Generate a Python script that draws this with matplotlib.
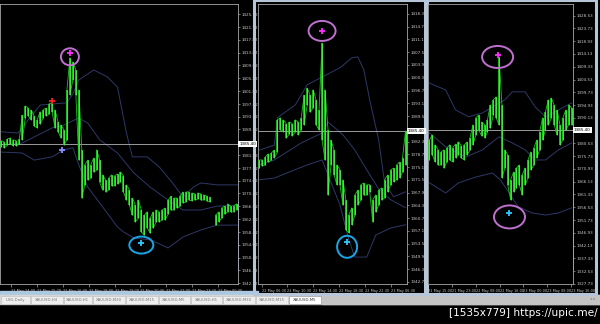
import numpy as np
import matplotlib
matplotlib.use('Agg')
import matplotlib.pyplot as plt
from matplotlib.patches import Ellipse, Rectangle
from matplotlib.transforms import ScaledTranslation, blended_transform_factory

# ---------------- left chart ----------------
p1_high = [1386.4, 1386.0, 1387.0, 1387.3, 1386.7, 1386.4, 1387.0, 1394.4, 1397.2, 1396.6,
           1396.0, 1394.1, 1392.9, 1395.4, 1396.0, 1396.6, 1397.9, 1398.2, 1396.0, 1392.3,
           1391.3, 1389.8, 1402.2, 1412.2, 1410.9, 1408.4, 1402.2, 1383.6, 1378.9, 1380.4,
           1378.9, 1381.1, 1383.6, 1380.4, 1375.8, 1374.2, 1374.8, 1375.8, 1375.5, 1376.1,
           1376.7, 1375.5, 1372.7, 1371.1, 1368.6, 1366.4, 1368.0, 1364.9, 1363.3, 1364.3,
           1362.4, 1364.3, 1364.9, 1364.3, 1364.9, 1365.5, 1368.0, 1369.2, 1368.6, 1368.6,
           1369.2, 1370.5, 1370.5, 1370.5, 1370.2, 1369.9, 1370.2, 1369.9, 1369.6, 1369.2,
           1368.9, np.nan, 1363.3, 1364.3, 1365.5, 1366.1, 1366.8, 1366.1, 1366.1, 1366.8]
p1_low = [1384.5, 1384.2, 1385.1, 1385.4, 1384.8, 1384.8, 1385.4, 1386.7, 1393.5, 1394.1,
          1392.9, 1391.0, 1390.4, 1391.6, 1393.5, 1394.1, 1394.7, 1395.4, 1390.4, 1389.2,
          1387.3, 1385.1, 1386.7, 1400.7, 1405.3, 1400.7, 1380.4, 1368.6, 1372.7, 1374.2,
          1374.8, 1376.7, 1377.3, 1373.6, 1371.1, 1370.5, 1371.1, 1372.4, 1372.4, 1373.0,
          1373.6, 1370.5, 1368.0, 1366.4, 1363.3, 1361.2, 1362.4, 1358.1, 1357.1, 1359.3,
          1357.7, 1359.3, 1361.2, 1361.2, 1361.8, 1361.8, 1363.6, 1364.9, 1364.9, 1365.5,
          1366.1, 1367.1, 1367.4, 1368.0, 1367.7, 1368.0, 1368.3, 1368.0, 1368.0, 1367.7,
          1367.4, np.nan, 1360.2, 1361.2, 1362.4, 1363.6, 1364.3, 1364.3, 1364.3, 1364.9]
p1_up_x = [0, 5.5, 13, 22, 24, 26, 31, 35.5, 39, 42, 44, 49, 53, 57.5, 61, 64.5, 67, 72.5, 79.5]
p1_up = [1389.2, 1388.8, 1397.5, 1398.2, 1401.0, 1405.3, 1408.4, 1406.3, 1403.1, 1388.8,
         1381.4, 1381.4, 1378.3, 1373.3, 1368.9, 1372.0, 1373.3, 1372.7, 1372.7]
p1_mid_x = [0, 7, 11, 17, 21, 26, 29, 33, 39, 44.5, 50, 56, 61, 67, 72.5, 79.5]
p1_mid = [1385.1, 1385.7, 1387.6, 1390.4, 1391.3, 1393.5, 1391.9, 1386.7, 1382.6, 1376.4,
          1372.0, 1368.0, 1364.9, 1364.9, 1366.1, 1366.4]
p1_lo_x = [0, 7, 11, 17, 21, 24, 26, 29, 33, 39, 41, 44.5, 50, 52.5, 56, 61, 67, 72.5, 79.5]
p1_lo = [1382.9, 1382.6, 1380.4, 1381.4, 1383.6, 1384.2, 1378.9, 1372.0, 1367.1, 1359.6,
         1358.1, 1356.2, 1355.6, 1354.6, 1353.1, 1356.5, 1358.7, 1360.2, 1360.2]
p1_ticks = ['1425.72', '1421.72', '1417.82', '1413.82', '1409.82', '1405.82', '1401.82',
            '1397.82', '1393.92', '1389.92', '1381.92', '1377.92', '1374.02', '1370.02',
            '1366.02', '1362.02', '1358.02', '1354.02', '1350.12', '1346.12', '1342.12']
p1_times = ['22 May 14:00', '22 May 15:20', '22 May 16:40', '22 May 18:00', '22 May 19:20',
            '22 May 20:40', '22 May 22:00', '22 May 23:20', '23 May 00:40']

# ---------------- middle chart ----------------
p2_high = [1377.2, 1377.2, 1378.1, 1378.9, 1379.2, 1380.0, 1388.5, 1389.1, 1388.5, 1387.4,
           1387.9, 1387.4, 1388.5, 1387.9, 1389.1, 1395.5, 1397.5, 1395.5, 1397.0, 1394.1,
           1391.3, 1410.2, 1397.0, 1385.7, 1382.8, 1380.0, 1375.8, 1374.4, 1371.6, 1365.9,
           1361.7, 1363.7, 1367.3, 1368.7, 1370.2, 1370.7, 1370.2, 1370.2, 1365.9, 1367.3,
           1368.7, 1369.3, 1371.6, 1373.0, 1374.4, 1374.9, 1375.8, 1376.6, 1377.8, 1385.4]
p2_low = [1374.9, 1375.5, 1375.8, 1376.6, 1377.2, 1377.8, 1379.5, 1385.7, 1385.1, 1383.4,
          1384.5, 1384.0, 1385.1, 1384.3, 1385.7, 1387.1, 1392.7, 1390.7, 1391.9, 1387.1,
          1385.7, 1382.8, 1377.2, 1367.3, 1375.8, 1373.0, 1370.2, 1370.2, 1364.5, 1357.5,
          1356.6, 1358.9, 1361.7, 1364.5, 1365.9, 1367.3, 1367.3, 1368.2, 1359.7, 1362.5,
          1364.5, 1365.9, 1366.5, 1368.2, 1370.2, 1371.0, 1371.6, 1372.1, 1373.8, 1375.8]
p2_up_x = [0, 5, 6, 12, 16, 21, 27, 31, 33, 35, 37, 40, 42, 45, 49]
p2_up = [1380.0, 1381.4, 1389.1, 1392.7, 1398.4, 1400.6, 1403.2, 1406.0, 1406.3, 1402.6,
         1394.1, 1382.8, 1370.7, 1366.8, 1368.2]
p2_mid_x = [0, 5, 14, 21, 23, 28, 32, 36, 40, 44, 49]
p2_mid = [1375.8, 1377.2, 1382.0, 1384.8, 1387.9, 1384.3, 1380.0, 1374.4, 1369.0, 1366.0, 1363.7]
p2_lo_x = [0, 5, 10, 16, 21, 23, 27, 30, 32, 36, 39, 44, 49]
p2_lo = [1371.6, 1372.1, 1373.8, 1375.8, 1377.2, 1373.0, 1364.5, 1354.6, 1349.8, 1349.8,
         1356.0, 1358.0, 1358.9]
p2_ticks = ['1418.39', '1414.79', '1411.19', '1407.59', '1403.99', '1400.39', '1396.79',
            '1393.19', '1389.59', '1382.39', '1378.79', '1375.19', '1371.59', '1367.99',
            '1364.39', '1360.79', '1357.19', '1353.59', '1349.99', '1346.39', '1342.79']
p2_times = ['22 May 06:30', '22 May 10:30', '22 May 14:30', '22 May 18:30', '22 May 22:30',
            '23 May 06:30']

# ---------------- right chart ----------------
p3_high = [1381.8, 1383.7, 1380.0, 1378.1, 1377.3, 1378.1, 1378.8, 1380.0, 1378.8, 1380.3,
           1381.1, 1379.6, 1380.0, 1381.1, 1382.6, 1387.5, 1390.1, 1391.2, 1388.6, 1387.5,
           1389.4, 1395.0, 1396.9, 1398.0, 1413.0, 1395.0, 1378.1, 1376.2, 1366.8, 1369.8,
           1371.3, 1372.4, 1368.7, 1371.3, 1374.3, 1377.3, 1378.8, 1381.8, 1384.8, 1390.1,
           1392.4, 1396.9, 1397.6, 1395.0, 1393.1, 1387.5, 1390.1, 1393.1, 1395.0, 1393.9]
p3_low = [1374.3, 1376.2, 1373.6, 1372.4, 1372.4, 1371.3, 1373.6, 1374.3, 1373.6, 1375.1,
          1376.2, 1375.1, 1374.3, 1376.2, 1378.1, 1380.0, 1383.7, 1385.6, 1383.3, 1382.6,
          1384.8, 1386.3, 1391.2, 1390.1, 1387.5, 1367.6, 1371.3, 1364.9, 1359.3, 1362.3,
          1363.8, 1364.9, 1361.2, 1364.9, 1367.6, 1370.6, 1372.4, 1375.1, 1378.1, 1381.8,
          1385.6, 1387.5, 1390.1, 1387.5, 1383.7, 1380.0, 1381.8, 1385.6, 1387.5, 1387.5]
p3_up_x = [0, 5.6, 9, 13.5, 18.3, 26, 28.6, 33, 36.5, 40, 44.5, 49]
p3_up = [1403.2, 1400.6, 1393.1, 1390.5, 1392.0, 1396.9, 1399.9, 1399.9, 1394.2, 1390.5,
         1393.1, 1395.7]
p3_mid_x = [0, 5.6, 12.5, 18.3, 24, 28.6, 33, 36.5, 40, 44.5, 49]
p3_mid = [1384.5, 1379.2, 1375.4, 1378.1, 1383.0, 1380.7, 1378.1, 1374.3, 1374.3, 1378.1, 1380.7]
p3_lo_x = [0, 5.6, 10, 16, 21.7, 24.5, 30.6, 35.4, 40, 44.5, 49]
p3_lo = [1365.7, 1361.9, 1365.7, 1367.9, 1369.4, 1366.8, 1356.7, 1354.4, 1353.6, 1354.4, 1356.3]
p3_ticks = ['1428.53', '1423.73', '1418.93', '1414.13', '1409.33', '1404.53', '1399.73',
            '1394.93', '1390.13', '1380.53', '1375.73', '1370.93', '1366.13', '1361.33',
            '1356.53', '1351.73', '1346.93', '1342.13', '1337.33', '1332.53', '1327.73']
p3_times = ['21 May 15:00', '21 May 23:00', '22 May 08:00', '22 May 16:00', '23 May 00:00',
            '23 May 08:00', '23 May 16:00']

last_price = 1385.40

# signal arrows (bar, price, colour) and rings (bar, price, w px, h px, colour)
p1_arrows = [(23, 1413.7, '#ff30ff'), (17, 1398.8, '#ff2020'), (20.3, 1383.6, '#8c8cff'),
             (47, 1354.6, '#30c8ff')]
p1_rings = [(23, 1412.5, 18, 17, '#c070d0'), (47, 1354.0, 24, 17, '#1aa6e6')]
p2_arrows = [(21, 1413.6, '#ff30ff'), (29.4, 1354.1, '#30c8ff')]
p2_rings = [(21, 1413.6, 27, 20, '#c070d0'), (29.4, 1352.7, 20, 22, '#1aa6e6')]
p3_arrows = [(23.5, 1413.8, '#ff30ff'), (27.6, 1354.4, '#30c8ff')]
p3_rings = [(23.5, 1413.0, 31, 22, '#c070d0'), (27.6, 1352.9, 31, 23, '#c070d0')]

tabs = ['USD,Daily', 'XAUUSD,H4', 'XAUUSD,H1', 'XAUUSD,M30', 'XAUUSD,M15', 'XAUUSD,M5',
        'XAUUSD,H1', 'XAUUSD,M30', 'XAUUSD,M15', 'XAUUSD,M5']
tab_edges = [0, 30, 63, 92, 125, 158, 190, 222, 255, 288, 321]

W, H = 600, 324
fig = plt.figure(figsize=(6.0, 3.24), dpi=100, facecolor='black')

bg = fig.add_axes([0, 0, 1, 1], zorder=0)
bg.set_xlim(0, W)
bg.set_ylim(H, 0)
bg.axis('off')


def px_axes(x0, x1, y0, y1):
    return fig.add_axes([x0 / W, 1 - y1 / H, (x1 - x0) / W, (y1 - y0) / H], zorder=2)


def ring(ax, x, y, w, h, color):
    tr = fig.dpi_scale_trans + ScaledTranslation(x, y, ax.transData)
    ax.add_patch(Ellipse((0, 0), w / 100, h / 100, transform=tr, fill=False,
                         ec=color, lw=1.4, clip_on=False, zorder=5))


def draw_chart(ax, high, low, bands, ylim, ticks, times, tpos, arrows, rings):
    ax.set_facecolor('black')
    n = len(high)
    x = np.arange(n)
    hi = np.array(high, dtype=float)
    lo = np.array(low, dtype=float)
    ok = ~np.isnan(hi)
    for bx, by in bands:
        ax.plot(bx, by, color='#2f3868', lw=0.7, zorder=1)
    ax.axhline(last_price, color='#b4b4b4', lw=0.6, zorder=2)
    # jagged trace through each bar's range, then the bars themselves
    zx = np.repeat(x, 2).astype(float)
    zy = np.column_stack([hi, lo]).ravel()
    zy[1::4], zy[0::4] = zy[0::4].copy(), zy[1::4].copy()
    ax.plot(zx, zy, color='#1cc41c', lw=0.6, zorder=3)
    ax.vlines(x[ok], lo[ok], hi[ok], color='#1fd81f', lw=1.1, zorder=3)
    ax.vlines(x[ok], lo[ok], hi[ok], color='#5cff5c', lw=0.45, zorder=3)
    for bx, by, c in arrows:
        ax.plot(bx, by, marker='+', ms=4, mew=1.3, color=c, zorder=6)
    for bx, by, w, h, c in rings:
        ring(ax, bx, by, w, h, c)
    ax.set_xlim(-0.5, n - 0.5)
    ax.set_ylim(*ylim)
    ax.yaxis.tick_right()
    ax.set_yticks([float(t) for t in ticks])
    ax.set_yticklabels(ticks)
    ax.tick_params(axis='y', labelsize=3, colors='#c8c8c8', length=1.5, width=0.4, pad=1)
    ax.set_xticks(tpos)
    ax.set_xticklabels(times, ha='left')
    ax.tick_params(axis='x', labelsize=2.5, colors='#c8c8c8', length=2.5, width=0.4, pad=0.8)
    for s in ax.spines.values():
        s.set_color('#a8a8a8')
        s.set_linewidth(0.6)
    tr = blended_transform_factory(ax.transAxes, ax.transData)
    ax.text(1.005, last_price, '%.2f' % last_price, transform=tr, fontsize=3, color='black',
            ha='left', va='center', zorder=7,
            bbox=dict(boxstyle='square,pad=0.25', fc='white', ec='none'))


# window chrome
bg.add_patch(Rectangle((0, 291), 258, 4, color='#a9c9e2'))
bg.add_patch(Rectangle((0, 295), 600, 9, color='#d6d6d6'))
bg.add_patch(Rectangle((322, 295), 278, 9, color='#c4c4c4'))
for i, name in enumerate(tabs):
    x0, x1 = tab_edges[i], tab_edges[i + 1]
    active = i == len(tabs) - 1
    bg.add_patch(Rectangle((x0 + 0.5, 295.5), x1 - x0 - 1, 8, fc='white' if active else '#eeeeee',
                           ec='#888888' if active else '#bdbdbd', lw=0.4))
    bg.text((x0 + x1) / 2, 299.8, name, fontsize=2.8, color='#333333' if active else '#777777',
            ha='center', va='center')
# middle and right window frames
for x0, x1 in [(254, 427), (425, 596)]:
    bg.add_patch(Rectangle((x0, 0), x1 - x0, 294, fill=False, ec='#b6c6d8', lw=2.2))
bg.plot([238, 238], [203, 270], color='#8fa0ff', lw=1.2)
bg.plot([573, 573], [180, 270], color='#7f8cff', lw=1.2)
bg.text(595, 299.5, '\u25c2 \u25b8', fontsize=3, color='#888888', ha='right', va='center')
bg.text(598, 313, '[1535x779] https://upic.me/', fontsize=7.6, color='white',
        ha='right', va='center')

ax1 = px_axes(0, 238, 4, 284)
draw_chart(ax1, p1_high, p1_low, [(p1_up_x, p1_up), (p1_mid_x, p1_mid), (p1_lo_x, p1_lo)],
           (1341.9, 1428.9), p1_ticks, p1_times, [3.2, 12, 20.7, 29.3, 38, 46.7, 55.4, 64.2, 72.8],
           p1_arrows, p1_rings)
ax1.text(0.2, -0.035, '2:40', transform=blended_transform_factory(ax1.transData, ax1.transAxes),
         fontsize=2.5, color='#c8c8c8', va='top')

ax2 = px_axes(258, 407, 4, 284)
draw_chart(ax2, p2_high, p2_low, [(p2_up_x, p2_up), (p2_mid_x, p2_mid), (p2_lo_x, p2_lo)],
           (1342.2, 1421.2), p2_ticks, p2_times, [0.8, 9.2, 17.9, 26.7, 35.4, 44.1],
           p2_arrows, p2_rings)

ax3 = px_axes(428, 573, 4, 284)
draw_chart(ax3, p3_high, p3_low, [(p3_up_x, p3_up), (p3_mid_x, p3_mid), (p3_lo_x, p3_lo)],
           (1327.7, 1432.9), p3_ticks, p3_times, [-0.4, 7.8, 16, 24.2, 32.4, 40.6, 48.8],
           p3_arrows, p3_rings)

fig.savefig('out.png', dpi=100, facecolor='black')
